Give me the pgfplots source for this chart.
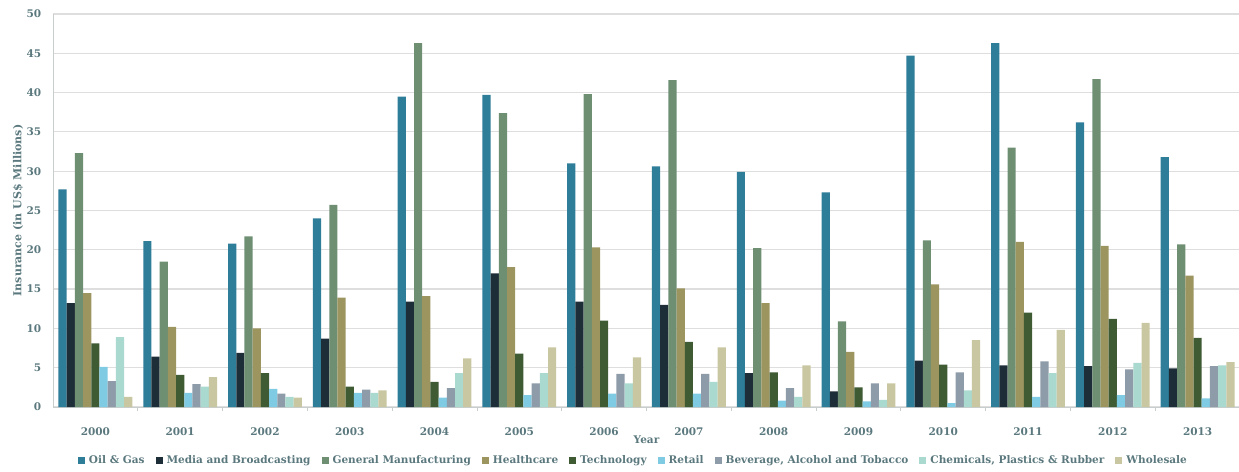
\documentclass[border=0pt]{standalone}
\usepackage{fontspec}
\setmainfont{DejaVu Serif}
\usepackage{pgfplots}
\usepackage{pgfplotstable}
\pgfplotsset{compat=1.18}
\definecolor{coil}{RGB}{46,125,153}
\definecolor{cmedia}{RGB}{30,46,56}
\definecolor{cgen}{RGB}{111,143,115}
\definecolor{chealth}{RGB}{156,149,95}
\definecolor{ctech}{RGB}{62,91,52}
\definecolor{cretail}{RGB}{127,203,227}
\definecolor{cbev}{RGB}{142,155,168}
\definecolor{cchem}{RGB}{169,217,207}
\definecolor{cwhole}{RGB}{201,199,162}
\definecolor{txt}{RGB}{90,120,125}
\definecolor{gridc}{RGB}{222,222,222}
\definecolor{axc}{RGB}{200,205,205}
\pgfplotstableread{
x oil media gen health tech retail bev chem whole
0 27.7 13.2 32.3 14.5 8.1 5.1 3.3 8.9 1.3
1 21.1 6.4 18.5 10.2 4.1 1.8 2.9 2.6 3.8
2 20.8 6.9 21.7 10.0 4.3 2.3 1.7 1.3 1.2
3 24.0 8.7 25.7 13.9 2.6 1.8 2.2 1.8 2.1
4 39.5 13.4 46.3 14.1 3.2 1.2 2.4 4.3 6.2
5 39.7 17.0 37.4 17.8 6.8 1.5 3.0 4.3 7.6
6 31.0 13.4 39.8 20.3 11.0 1.7 4.2 3.0 6.3
7 30.6 13.0 41.6 15.1 8.3 1.7 4.2 3.2 7.6
8 29.9 4.3 20.2 13.2 4.4 0.8 2.4 1.3 5.3
9 27.3 2.0 10.9 7.0 2.5 0.7 3.0 0.9 3.0
10 44.7 5.9 21.2 15.6 5.4 0.5 4.4 2.1 8.5
11 46.3 5.3 33.0 21.0 12.0 1.3 5.8 4.3 9.8
12 36.2 5.2 41.7 20.5 11.2 1.5 4.8 5.6 10.7
13 31.8 4.9 20.7 16.7 8.8 1.1 5.2 5.3 5.7
}\datatable
\begin{document}
\begin{tikzpicture}
\useasboundingbox (-53pt,-64pt) rectangle (1186pt,407pt);
\begin{axis}[
  scale only axis, width=1187pt, height=393pt,
  at={(0,0)}, anchor=south west,
  ybar=0pt, bar width=8.2pt,
  xmin=-0.5, xmax=13.5, ymin=0, ymax=50,
  ytick={0,5,...,50},
  xtick={0,...,13},
  minor xtick={0.5,1.5,...,12.5},
  xticklabels={2000,2001,2002,2003,2004,2005,2006,2007,2008,2009,2010,2011,2012,2013},
  major x tick style={draw=none}, minor x tick style={draw=axc, line width=0.8pt},
  ytick style={draw=none},
  tick align=outside, minor tick length=4pt,
  ymajorgrids, grid style={draw=gridc, line width=1.2pt},
  axis x line*=bottom, axis y line*=left,
  axis line style={draw=axc, line width=0.8pt},
  /pgf/number format/assume math mode=true,
  tick label style={font=\fontsize{10.5}{11}\selectfont\bfseries, text=txt},
  xticklabel style={anchor=center, yshift=-20pt},
  yticklabel style={anchor=east, xshift=-4pt},
  xlabel={Year},
  xlabel style={at={(axis description cs:0.5,-0.084)}, anchor=center, font=\fontsize{10.5}{11}\selectfont\bfseries, text=txt},
  ylabel={Insurance (in US\$ Millions)},
  ylabel style={at={(axis description cs:-0.0295,0.5)}, anchor=center, font=\fontsize{11}{12}\selectfont\bfseries, text=txt},
  legend style={at={(axis description cs:0.489,-0.135)}, anchor=center, draw=none, fill=none,
    legend columns=9, font=\fontsize{10.5}{11}\selectfont\bfseries, text=txt,
    /tikz/every even column/.append style={column sep=9pt},
    /tikz/every odd column/.append style={column sep=2pt}},
  legend image code/.code={\fill[#1] (0pt,-3.5pt) rectangle (7pt,3.5pt);},
]
\addplot[fill=coil, draw=none] table[x=x,y=oil]{\datatable};
\addplot[fill=cmedia, draw=none] table[x=x,y=media]{\datatable};
\addplot[fill=cgen, draw=none] table[x=x,y=gen]{\datatable};
\addplot[fill=chealth, draw=none] table[x=x,y=health]{\datatable};
\addplot[fill=ctech, draw=none] table[x=x,y=tech]{\datatable};
\addplot[fill=cretail, draw=none] table[x=x,y=retail]{\datatable};
\addplot[fill=cbev, draw=none] table[x=x,y=bev]{\datatable};
\addplot[fill=cchem, draw=none] table[x=x,y=chem]{\datatable};
\addplot[fill=cwhole, draw=none] table[x=x,y=whole]{\datatable};
\legend{Oil \& Gas, Media and Broadcasting, General Manufacturing, Healthcare, Technology, Retail, {Beverage, Alcohol and Tobacco}, {Chemicals, Plastics \& Rubber}, Wholesale}
\end{axis}
\end{tikzpicture}
\end{document}
